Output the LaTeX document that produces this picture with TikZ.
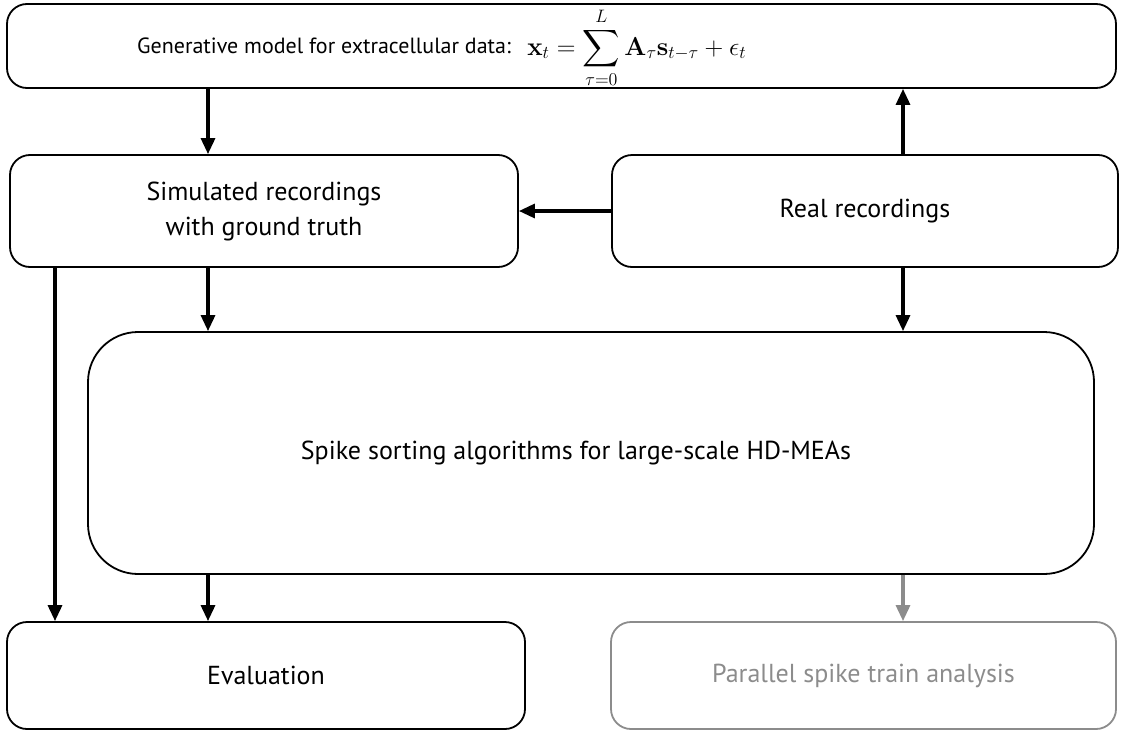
\documentclass[tikz,border=0pt]{standalone}
\usepackage{amsmath}
\usepackage[no-math]{fontspec}
\setmainfont{PT Sans}
\usetikzlibrary{positioning,arrows.meta}
\definecolor{fadegray}{RGB}{140,140,140}

\begin{document}
\begin{tikzpicture}[x=1pt,y=-1pt,
  box/.style={draw,line width=1.8pt,rounded corners=20pt,inner sep=0pt,align=center,font=\fontsize{26}{35}\selectfont},
  arr/.style={line width=3.2pt,-{Triangle[length=16pt,width=14pt]}}]
\useasboundingbox (0,0) rectangle (1121,731);

\node[box,minimum width=1109pt,minimum height=84pt] (model) at (561.5,46) {};
\node[anchor=base west,inner sep=0pt,font=\fontsize{22}{27}\selectfont] (modeltext) at (137,53)
  {Generative model for extracellular data:};
\node[anchor=base west,inner sep=0pt,font=\fontsize{20.74}{25}\selectfont] (modeleq) at ([xshift=16pt,yshift=-2pt]modeltext.base east)
  {\scalebox{1.25}{$\displaystyle\mathbf{x}_t=\sum_{\tau=0}^{L}\mathbf{A}_\tau\mathbf{s}_{t-\tau}+\epsilon_t$}};
\node[box,minimum width=508pt,minimum height=112pt] (sim) at (264,211) {Simulated recordings\\with ground truth};
\node[box,minimum width=506pt,minimum height=112pt] (real) at (865,211) {Real recordings};
\node[box,rounded corners=50pt,minimum width=1006pt,minimum height=242pt] (spike) at (591,453)
  {Spike sorting algorithms for large-scale HD-MEAs\hspace*{30pt}};
\node[box,minimum width=518pt,minimum height=107pt] (eval) at (266,675.5) {Evaluation};
\node[box,fadegray,minimum width=505pt,minimum height=107pt] (par) at (863.5,675.5) {Parallel spike train analysis};

\coordinate (colA) at (55,0);
\coordinate (colB) at (208,0);
\coordinate (colC) at (903,0);

\draw[arr] (model.south -| colB) -- (sim.north -| colB);
\draw[arr] (real.north -| colC) -- (model.south -| colC);
\draw[arr] (real.west) -- (sim.east);
\draw[arr] (sim.south -| colB) -- (spike.north -| colB);
\draw[arr] (real.south -| colC) -- (spike.north -| colC);
\draw[arr] (sim.south -| colA) -- (eval.north -| colA);
\draw[arr] (spike.south -| colB) -- (eval.north -| colB);
\draw[arr,fadegray] (spike.south -| colC) -- (par.north -| colC);
\end{tikzpicture}
\end{document}
